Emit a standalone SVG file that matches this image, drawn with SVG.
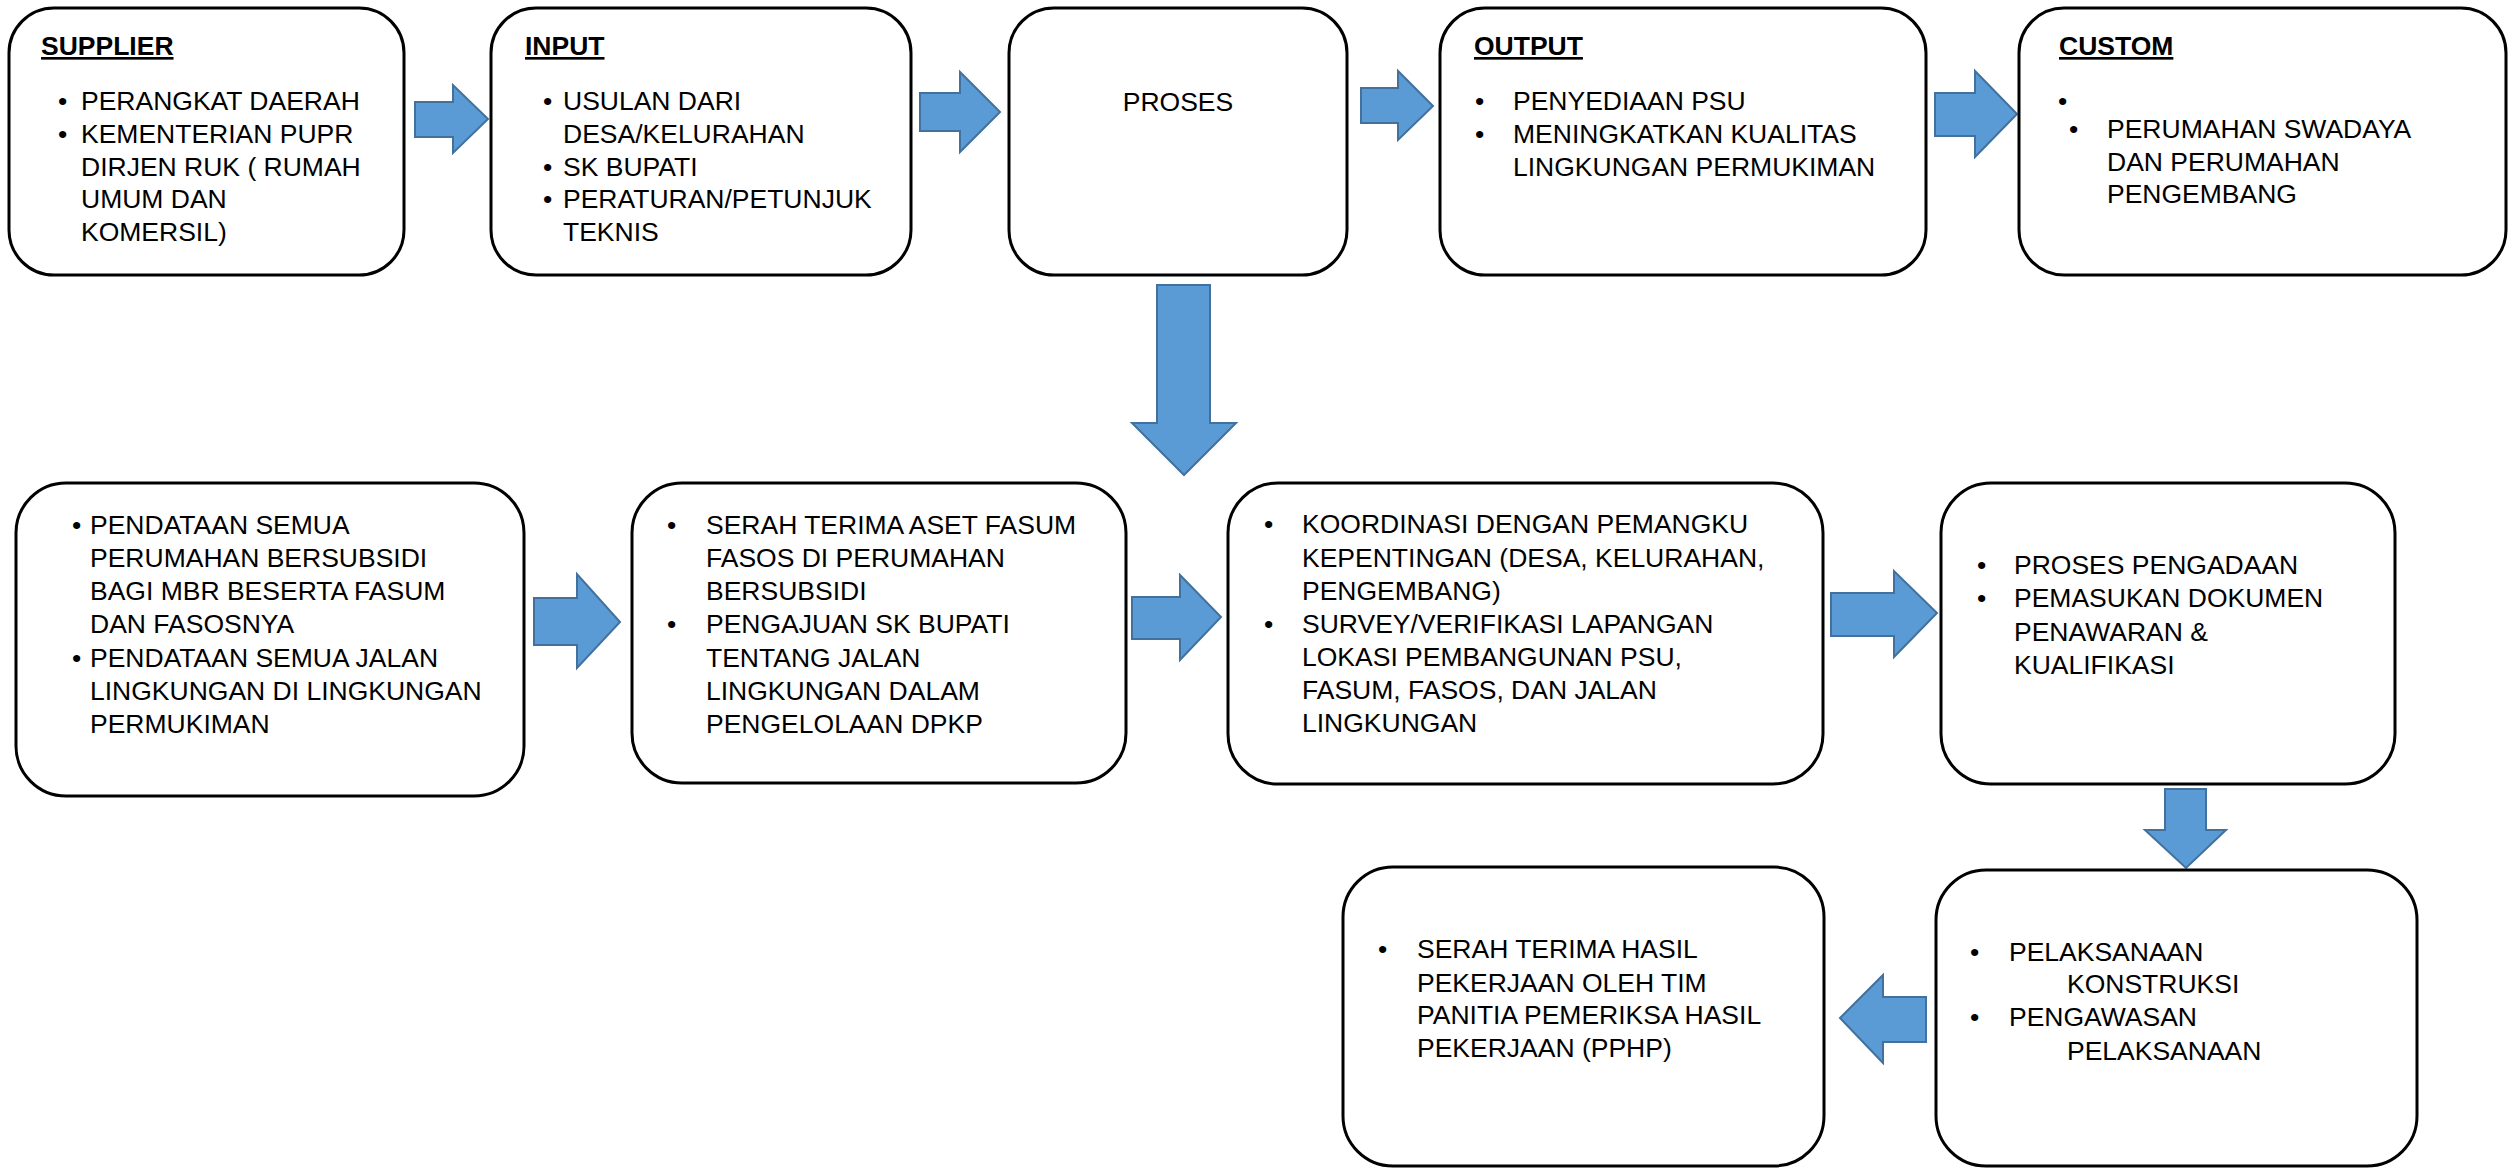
<svg xmlns="http://www.w3.org/2000/svg" width="2518" height="1169" viewBox="0 0 2518 1169">
<style>
.box{fill:#fff;stroke:#000;stroke-width:3}
.arr{fill:#5B9BD5;stroke:#41719C;stroke-width:2}
text{font-family:"Liberation Sans",Arial,sans-serif;font-size:26.5px;fill:#000}
.t{font-weight:bold;text-decoration:underline}
</style>
<rect width="2518" height="1169" fill="#fff"/>
<g id="connectors">
<polygon class="arr" points="415,102 453,102 453,85 488,119 453,153 453,137 415,137"/>
<polygon class="arr" points="920,93 960,93 960,72 1000,112 960,152 960,131 920,131"/>
<polygon class="arr" points="1361,88 1398,88 1398,71 1433,106 1398,140 1398,123 1361,123"/>
<polygon class="arr" points="1935,93 1975,93 1975,71 2017,114 1975,157 1975,136 1935,136"/>
<polygon class="arr" points="1157,285 1210,285 1210,423 1236,423 1184,475 1132,423 1157,423"/>
<polygon class="arr" points="534,598 577,598 577,574 620,622 577,668 577,645 534,645"/>
<polygon class="arr" points="1132,597 1180,597 1180,575 1221,617 1180,660 1180,639 1132,639"/>
<polygon class="arr" points="1831,593 1894,593 1894,571 1937,613 1894,657 1894,636 1831,636"/>
<polygon class="arr" points="2165,789 2206,789 2206,830 2226,830 2186,868 2145,830 2165,830"/>
<polygon class="arr" points="1926,997 1883,997 1883,975 1840,1018 1883,1063 1883,1042 1926,1042"/>
</g>
<g id="supplier">
<rect class="box" x="9" y="8" width="395" height="267" rx="45"/>
<text class="t" x="41" y="55">SUPPLIER</text>
<text x="58" y="110">•</text><text x="81" y="110">PERANGKAT DAERAH</text>
<text x="58" y="143">•</text><text x="81" y="143">KEMENTERIAN PUPR</text>
<text x="81" y="176">DIRJEN RUK ( RUMAH</text>
<text x="81" y="208">UMUM DAN</text>
<text x="81" y="241">KOMERSIL)</text>
</g>
<g id="input">
<rect class="box" x="491" y="8" width="420" height="267" rx="45"/>
<text class="t" x="525" y="55">INPUT</text>
<text x="543" y="110">•</text><text x="563" y="110">USULAN DARI</text>
<text x="563" y="143">DESA/KELURAHAN</text>
<text x="543" y="176">•</text><text x="563" y="176">SK BUPATI</text>
<text x="543" y="208">•</text><text x="563" y="208">PERATURAN/PETUNJUK</text>
<text x="563" y="241">TEKNIS</text>
</g>
<g id="proses">
<rect class="box" x="1009" y="8" width="338" height="267" rx="45"/>
<text x="1178" y="111" text-anchor="middle">PROSES</text>
</g>
<g id="output">
<rect class="box" x="1440" y="8" width="486" height="267" rx="45"/>
<text class="t" x="1474" y="55">OUTPUT</text>
<text x="1475" y="110">•</text><text x="1513" y="110">PENYEDIAAN PSU</text>
<text x="1475" y="143">•</text><text x="1513" y="143">MENINGKATKAN KUALITAS</text>
<text x="1513" y="176">LINGKUNGAN PERMUKIMAN</text>
</g>
<g id="custom">
<rect class="box" x="2019" y="8" width="487" height="267" rx="45"/>
<text class="t" x="2059" y="55">CUSTOM</text>
<text x="2058" y="110">•</text>
<text x="2069" y="138">•</text><text x="2107" y="138">PERUMAHAN SWADAYA</text>
<text x="2107" y="171">DAN PERUMAHAN</text>
<text x="2107" y="203">PENGEMBANG</text>
</g>
<g id="pendataan">
<rect class="box" x="16" y="483" width="508" height="313" rx="50"/>
<text x="72" y="534">•</text><text x="90" y="534">PENDATAAN SEMUA</text>
<text x="90" y="567">PERUMAHAN BERSUBSIDI</text>
<text x="90" y="600">BAGI MBR BESERTA FASUM</text>
<text x="90" y="633">DAN FASOSNYA</text>
<text x="72" y="667">•</text><text x="90" y="667">PENDATAAN SEMUA JALAN</text>
<text x="90" y="700">LINGKUNGAN DI LINGKUNGAN</text>
<text x="90" y="733">PERMUKIMAN</text>
</g>
<g id="serah-terima-aset">
<rect class="box" x="632" y="483" width="494" height="300" rx="50"/>
<text x="667" y="534">•</text><text x="706" y="534">SERAH TERIMA ASET FASUM</text>
<text x="706" y="567">FASOS DI PERUMAHAN</text>
<text x="706" y="600">BERSUBSIDI</text>
<text x="667" y="633">•</text><text x="706" y="633">PENGAJUAN SK BUPATI</text>
<text x="706" y="667">TENTANG JALAN</text>
<text x="706" y="700">LINGKUNGAN DALAM</text>
<text x="706" y="733">PENGELOLAAN DPKP</text>
</g>
<g id="koordinasi">
<rect class="box" x="1228" y="483" width="595" height="301" rx="50"/>
<text x="1264" y="533">•</text><text x="1302" y="533">KOORDINASI DENGAN PEMANGKU</text>
<text x="1302" y="567">KEPENTINGAN (DESA, KELURAHAN,</text>
<text x="1302" y="600">PENGEMBANG)</text>
<text x="1264" y="633">•</text><text x="1302" y="633">SURVEY/VERIFIKASI LAPANGAN</text>
<text x="1302" y="666">LOKASI PEMBANGUNAN PSU,</text>
<text x="1302" y="699">FASUM, FASOS, DAN JALAN</text>
<text x="1302" y="732">LINGKUNGAN</text>
</g>
<g id="pengadaan">
<rect class="box" x="1941" y="483" width="454" height="301" rx="50"/>
<text x="1977" y="574">•</text><text x="2014" y="574">PROSES PENGADAAN</text>
<text x="1977" y="607">•</text><text x="2014" y="607">PEMASUKAN DOKUMEN</text>
<text x="2014" y="641">PENAWARAN &amp;</text>
<text x="2014" y="674">KUALIFIKASI</text>
</g>
<g id="pelaksanaan">
<rect class="box" x="1936" y="870" width="481" height="296" rx="50"/>
<text x="1970" y="961">•</text><text x="2009" y="961">PELAKSANAAN</text>
<text x="2067" y="993">KONSTRUKSI</text>
<text x="1970" y="1026">•</text><text x="2009" y="1026">PENGAWASAN</text>
<text x="2067" y="1060">PELAKSANAAN</text>
</g>
<g id="serah-terima-hasil">
<rect class="box" x="1343" y="867" width="481" height="299" rx="50"/>
<text x="1378" y="958">•</text><text x="1417" y="958">SERAH TERIMA HASIL</text>
<text x="1417" y="992">PEKERJAAN OLEH TIM</text>
<text x="1417" y="1024">PANITIA PEMERIKSA HASIL</text>
<text x="1417" y="1057">PEKERJAAN (PPHP)</text>
</g>
</svg>
